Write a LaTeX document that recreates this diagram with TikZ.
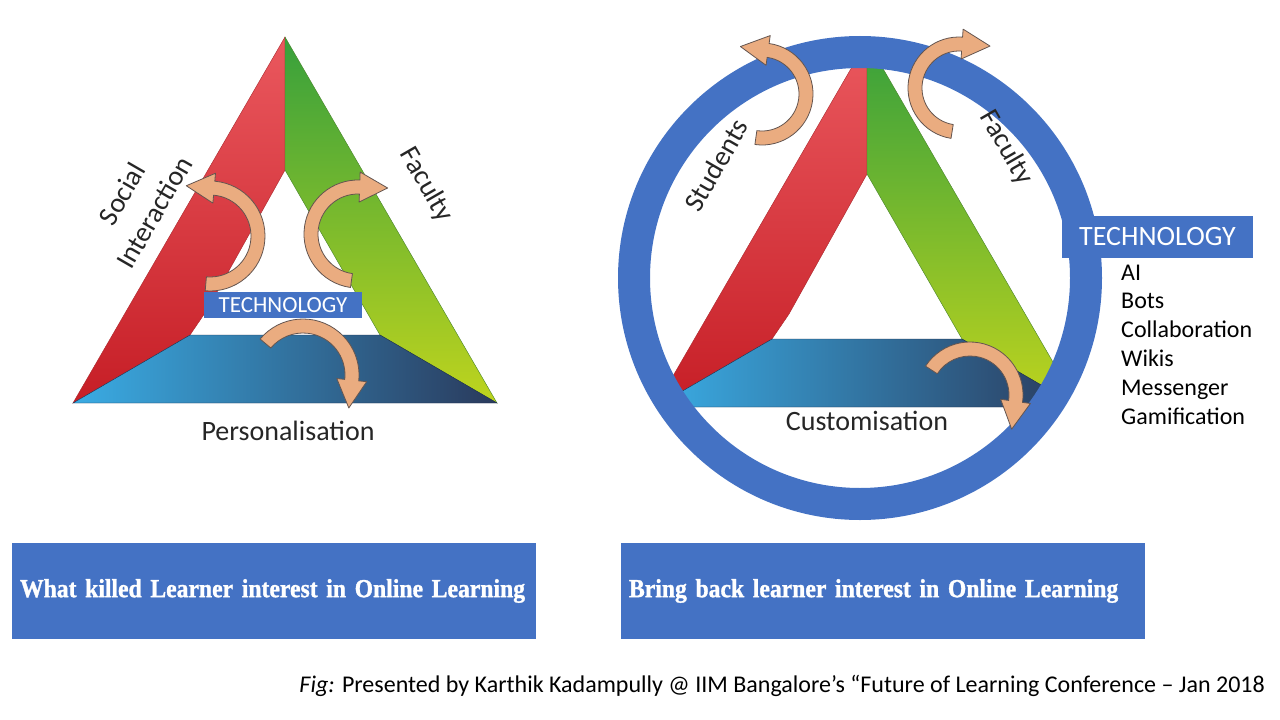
\documentclass[tikz,border=0pt]{standalone}
\usepackage{fontspec}
\setmainfont{Carlito}
\newfontfamily\headlineFont[FakeStretch=0.91, FakeBold=1.2]{Liberation Serif}
\usepackage{tikz}
\usetikzlibrary{calc}
\tikzstyle{slide} = [x = 1pt, y = -1pt]
\definecolor{redTop}{RGB}{234,88,94}
\definecolor{redBottom}{RGB}{198,30,38}
\definecolor{redEdge}{RGB}{170,40,45}
\definecolor{greenTop}{RGB}{55,160,60}
\definecolor{greenBottom}{RGB}{190,212,30}
\definecolor{greenEdge}{RGB}{70,130,40}
\definecolor{blueLeft}{RGB}{58,172,228}
\definecolor{blueRight}{RGB}{42,58,92}
\definecolor{blueEdge}{RGB}{30,45,75}
\definecolor{techBlue}{RGB}{68,114,196}
\definecolor{curlFill}{RGB}{234,172,128}
\definecolor{curlEdge}{RGB}{100,85,80}
\definecolor{labelGray}{RGB}{38,38,38}
\tikzstyle{redBand} = [top color=redTop, bottom color=redBottom, draw=redEdge, thin]
\tikzstyle{greenBand} = [top color=greenTop, bottom color=greenBottom, draw=greenEdge, thin]
\tikzstyle{blueBand} = [left color=blueLeft, right color=blueRight, draw=blueEdge, thin]
\tikzstyle{ringStyle} = [draw=techBlue, line width=32pt]
\tikzstyle{curlStyle} = [fill=curlFill, draw=curlEdge, line width=0.8pt, line join=round]
\tikzstyle{techBox} = [fill=techBlue, text=white, inner sep=0pt]
\tikzstyle{bandLabel} = [text=labelGray, font=\fontsize{28}{37}\selectfont, align=center]
\tikzstyle{toolItem} = [text=black, font=\fontsize{24}{29}\selectfont, anchor=base west, inner sep=0pt]
\tikzstyle{headlineBox} = [fill=techBlue, text=white, minimum height=96pt, text width=508pt, inner xsep=8pt, align=left, font=\headlineFont\bfseries\fontsize{26}{30}\selectfont]
\newcommand{\halfWidth}{7}
\newcommand{\headWidth}{15}
\newcommand{\headLength}{28}
\newcommand{\triangleBands}[2]{
  \begin{scope}[shift={(#1,#2)}]
    \shadedraw [redBand] (-212,366) -- (0,0) -- (0,133) -- (-78,273) -- (-95,298) -- cycle;
    \shadedraw [greenBand] (0,0) -- (212,366) -- (95,298) -- (0,133) -- cycle;
    \shadedraw [blueBand] (-212,366) -- (-95,298) -- (95,298) -- (212,366) -- cycle;
  \end{scope}
}
\newcommand{\curlArrow}[5]{
  \pgfmathsetmacro{\outerRadius}{#3 + \halfWidth}
  \pgfmathsetmacro{\innerRadius}{#3 - \halfWidth}
  \pgfmathsetmacro{\barbOuter}{#3 + \headWidth}
  \pgfmathsetmacro{\barbInner}{#3 - \headWidth}
  \pgfmathsetmacro{\tipAngle}{#5 + ((#5 > #4) ? 90 : -90)}
  \filldraw [curlStyle] ($(#1,#2) + (#4:\outerRadius)$) arc [start angle=#4, end angle=#5, radius=\outerRadius]
    -- ($(#1,#2) + (#5:\barbOuter)$)
    -- ($(#1,#2) + (#5:#3) + (\tipAngle:\headLength)$)
    -- ($(#1,#2) + (#5:\barbInner)$)
    -- ($(#1,#2) + (#5:\innerRadius)$) arc [start angle=#5, end angle=#4, radius=\innerRadius]
    -- cycle;
}

\begin{document}
\begin{tikzpicture}[slide]
  \useasboundingbox [fill=white] (0,0) rectangle (1280,720);
  \triangleBands{285}{37}
  \coordinate (ringCentre) at (860,278);
  \begin{scope}
    \clip (ringCentre) circle [radius=226];
    \triangleBands{867}{41}
  \end{scope}
  \draw [ringStyle] (ringCentre) circle [radius=226];

  \node [techBox, minimum width=158pt, minimum height=26pt, font=\fontsize{23}{26}\selectfont] (techLeft) at (283,305) {TECHNOLOGY};
  \node [techBox, minimum width=191pt, minimum height=42pt, font=\fontsize{28}{32}\selectfont] (techRight) at (1157.5,237) {TECHNOLOGY};

  \curlArrow{210}{236}{48}{95}{-85}
  \curlArrow{358}{234}{47}{98}{272}
  \curlArrow{303}{375}{49}{220}{366}
  \curlArrow{762}{94}{44}{98}{-82}
  \curlArrow{959}{88}{44}{99}{274}
  \curlArrow{970}{395}{46}{213}{368}

  \node [bandLabel, rotate=60] (socialLabel) at (138,203) {Social\\Interaction};
  \node [bandLabel, rotate=-60] (facultyLeft) at (426,185) {Faculty};
  \node [bandLabel] (personalLabel) at (288,431) {Personalisation};
  \node [bandLabel, rotate=60] (studentsLabel) at (716,165) {Students};
  \node [bandLabel, rotate=-60] (facultyRight) at (1006,148) {Faculty};
  \node [bandLabel] (customLabel) at (867,421) {Customisation};

  \foreach \tool [count=\i] in {AI, Bots, Collaboration, Wikis, Messenger, Gamification} {
    \node [toolItem] (tool\i) at (1121, 280 + 28.8 * \i - 28.8) {\tool};
  }

  \node [headlineBox] (killedBox) at (274,591) {What killed Learner interest in Online Learning};
  \node [headlineBox] (bringBox) at (883,591) {Bring back learner interest in Online Learning};
  \node [anchor=base east, inner sep=0pt, font=\fontsize{24}{28}\selectfont] (caption) at (1265,692) {\textit{Fig:} Presented by Karthik Kadampully @ IIM Bangalore’s “Future of Learning Conference – Jan 2018};
\end{tikzpicture}
\end{document}
